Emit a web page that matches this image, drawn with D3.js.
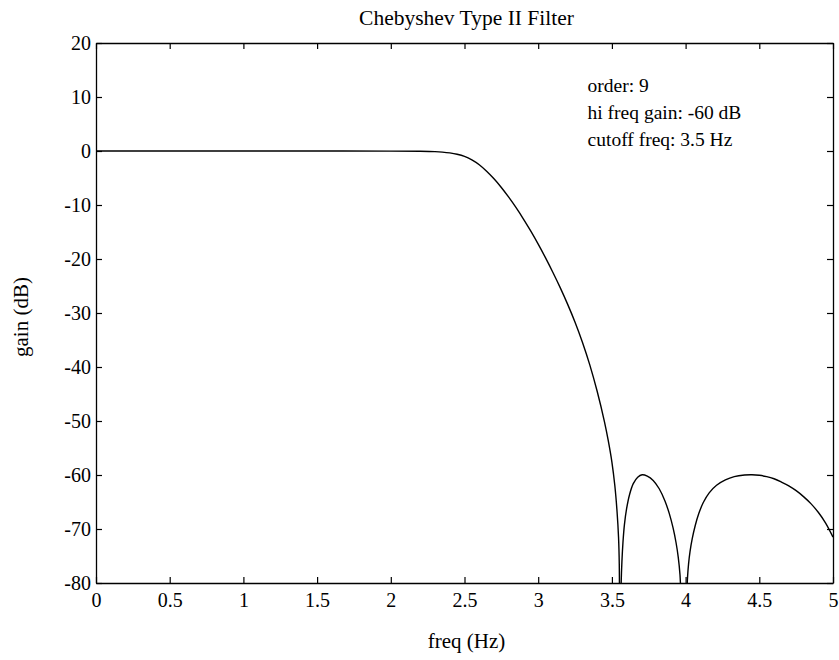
<!DOCTYPE html>
<html>
<head>
<meta charset="utf-8">
<script src="https://cdn.jsdelivr.net/npm/d3@7"></script>
<style>
  html, body { margin: 0; padding: 0; background: #fff; }
  svg text { font-family: "Liberation Serif", "Times New Roman", serif; fill: #000; }
</style>
</head>
<body>
<svg id="chart" width="839" height="660"></svg>
<script>
// ---- data ----
const freqHz = [0, 0.5, 1.0, 1.5, 2.0, 2.2, 2.3, 2.35, 2.4, 2.45, 2.5, 2.55, 2.6, 2.65, 2.7, 2.75, 2.8, 2.85, 2.9, 2.95, 3.0,
  3.05, 3.1, 3.15, 3.2, 3.25, 3.3, 3.35, 3.4, 3.45, 3.475, 3.5, 3.52, 3.535, 3.545, 3.55, 3.554,
  3.563, 3.568, 3.575, 3.585, 3.6, 3.62, 3.645, 3.675, 3.705, 3.74, 3.78, 3.82, 3.86, 3.89, 3.915, 3.935, 3.95, 3.962, 3.988,
  4.013, 4.02, 4.03, 4.045, 4.065, 4.09, 4.12, 4.16, 4.21, 4.27, 4.33, 4.4, 4.45, 4.5, 4.55, 4.6, 4.65, 4.7, 4.75, 4.8, 4.85, 4.9, 4.95, 5.0];
const gainDb = [0, 0, 0, 0, -0.02, -0.06, -0.12, -0.2, -0.35, -0.6, -1.0, -1.65, -2.55, -3.75, -5.15, -6.75, -8.55, -10.5, -12.6, -14.85, -17.25,
  -19.8, -22.5, -25.35, -28.4, -31.7, -35.4, -39.6, -44.5, -50.2, -53.6, -57.6, -62.0, -66.8, -71.5, -76.5, -95,
  -80.0, -76.0, -72.5, -69.2, -66.2, -63.6, -61.6, -60.4, -59.95, -60.2, -61.0, -62.5, -64.8, -67.2, -69.8, -72.5, -75.2, -78.5, -95,
  -79.0, -76.5, -74.2, -71.8, -69.4, -67.1, -65.1, -63.3, -61.9, -60.9, -60.3, -60.0, -59.95, -60.05, -60.3, -60.7, -61.3, -62.0, -62.9, -64.0, -65.3, -66.9, -68.9, -71.5];
const xTicks = [0, 0.5, 1, 1.5, 2, 2.5, 3, 3.5, 4, 4.5, 5];
const xTickLabels = ["0", "0.5", "1", "1.5", "2", "2.5", "3", "3.5", "4", "4.5", "5"];
const yTicks = [20, 10, 0, -10, -20, -30, -40, -50, -60, -70, -80];
const yTickLabels = ["20", "10", "0", "-10", "-20", "-30", "-40", "-50", "-60", "-70", "-80"];
const titleText = "Chebyshev Type II Filter";
const xLabelText = "freq (Hz)";
const yLabelText = "gain (dB)";
const notes = ["order: 9", "hi freq gain: -60 dB", "cutoff freq: 3.5 Hz"];

// ---- layout ----
const L = 96, R = 833, T = 43, B = 583;
const svg = d3.select("#chart");
const x = d3.scaleLinear().domain([0, 5]).range([L, R]);
const y = d3.scaleLinear().domain([-80, 20]).range([B, T]);
const TICK = 6;
const FS = 20;

// clip
svg.append("defs").append("clipPath").attr("id", "plotclip")
  .append("rect").attr("x", L).attr("y", T).attr("width", R - L).attr("height", B - T);

// curve
const pts = freqHz.map((f, i) => [f, gainDb[i]]);
svg.append("path")
  .datum(pts)
  .attr("clip-path", "url(#plotclip)")
  .attr("fill", "none")
  .attr("stroke", "#000")
  .attr("stroke-width", 1.4)
  .attr("d", d3.line().x(d => x(d[0])).y(d => y(d[1])).curve(d3.curveCatmullRom.alpha(0.5)));

// axes (inward ticks, all four sides)
const fmtX = (d) => xTickLabels[xTicks.indexOf(d)];
const fmtY = (d) => yTickLabels[yTicks.indexOf(d)];

const gB = svg.append("g").attr("transform", `translate(0,${B})`)
  .call(d3.axisBottom(x).tickValues(xTicks).tickFormat(fmtX).tickSizeInner(-TICK).tickSizeOuter(0).tickPadding(10));
const gT = svg.append("g").attr("transform", `translate(0,${T})`)
  .call(d3.axisTop(x).tickValues(xTicks).tickFormat("").tickSizeInner(-TICK).tickSizeOuter(0));
const gL = svg.append("g").attr("transform", `translate(${L},0)`)
  .call(d3.axisLeft(y).tickValues(yTicks).tickFormat(fmtY).tickSizeInner(-TICK).tickSizeOuter(0).tickPadding(5));
const gR = svg.append("g").attr("transform", `translate(${R},0)`)
  .call(d3.axisRight(y).tickValues(yTicks).tickFormat("").tickSizeInner(-TICK).tickSizeOuter(0));

[gB, gT, gL, gR].forEach(g => {
  g.selectAll("path.domain").attr("stroke", "#000").attr("stroke-width", 1.3);
  g.selectAll(".tick line").attr("stroke", "#000").attr("stroke-width", 1.2);
  g.selectAll("text").attr("font-family", "Liberation Serif, serif").attr("font-size", FS).attr("fill", "#000");
});
gB.selectAll(".tick text").attr("dy", null).attr("y", 24).attr("dominant-baseline", "auto");
gL.selectAll(".tick text").attr("dy", "0.34em");

// title
svg.append("text").attr("x", (L + R) / 2 + 2).attr("y", 25)
  .attr("text-anchor", "middle").attr("font-size", 21.5).text(titleText);
// x label
svg.append("text").attr("x", (L + R) / 2 + 2).attr("y", 648)
  .attr("text-anchor", "middle").attr("font-size", 21).text(xLabelText);
// y label
svg.append("text").attr("transform", `translate(28,${(T + B) / 2 + 4}) rotate(-90)`)
  .attr("text-anchor", "middle").attr("font-size", 21).text(yLabelText);

// annotations
const noteY = [10.9, 5.9, 0.9];
notes.forEach((n, i) => {
  svg.append("text").attr("x", x(3.335)).attr("y", y(noteY[i]))
    .attr("font-size", 19.5).text(n);
});
</script>
</body>
</html>
